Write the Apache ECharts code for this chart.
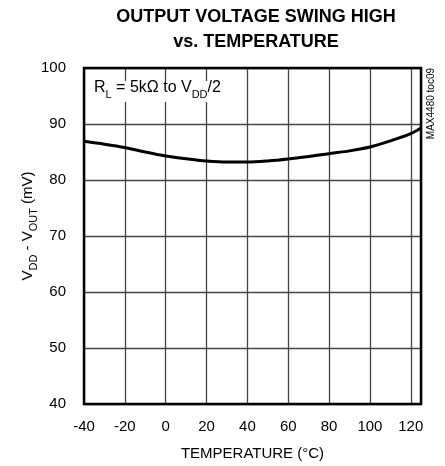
<!DOCTYPE html>
<html><head><meta charset="utf-8">
<script src="https://cdn.jsdelivr.net/npm/echarts@6/dist/echarts.min.js"></script>
<style>html,body{margin:0;padding:0;background:#fff}#c{width:445px;height:466px}</style>
</head><body><div id="c"></div>
<script>
var temps = [-40, -30, -20, -10, 0, 10, 20, 30, 40, 50, 60, 70, 80, 90, 100, 110, 120, 125];
var swing = [86.9, 86.4, 85.8, 85.0, 84.3, 83.8, 83.4, 83.2, 83.2, 83.4, 83.75, 84.2, 84.7, 85.2, 85.9, 87.0, 88.3, 89.3];
var xTicks = [-40, -20, 0, 20, 40, 60, 80, 100, 120];
var FONT = '"Liberation Sans", Arial, sans-serif';
var chart = echarts.init(document.getElementById('c'));
chart.setOption({
  animation: false,
  title: {
    text: 'OUTPUT VOLTAGE SWING HIGH\nvs. TEMPERATURE',
    left: 251, top: 0, textAlign: 'center',
    textStyle: {fontFamily: FONT, fontWeight: 'bold', fontSize: 18, lineHeight: 25, color: '#000'}
  },
  grid: {left: 84, right: 24, top: 68, bottom: 62},
  xAxis: {
    type: 'value', min: -40, max: 125, interval: 20,
    name: 'TEMPERATURE (°C)', nameLocation: 'middle', nameGap: 42,
    nameTextStyle: {fontFamily: FONT, fontSize: 15, color: '#000'},
    axisLine: {show: false},
    axisTick: {show: false},
    axisLabel: {fontFamily: FONT, fontSize: 15, color: '#000', margin: 15, customValues: xTicks},
    splitLine: {show: true, lineStyle: {color: '#444', width: 1.3}},
    customValues: xTicks
  },
  yAxis: {
    type: 'value', min: 40, max: 100, interval: 10,
    axisLine: {show: false},
    axisTick: {show: false},
    axisLabel: {fontFamily: FONT, fontSize: 15, color: '#000', margin: 18},
    splitLine: {show: true, lineStyle: {color: '#444', width: 1.3}}
  },
  graphic: [
    {type: 'rect', shape: {x: 84, y: 68, width: 337, height: 336}, style: {fill: 'none', stroke: '#000', lineWidth: 2.5}, z: 100},
    {type: 'rect', shape: {x: 91, y: 81, width: 134, height: 21}, style: {fill: '#fff'}, z: 50},
    {type: 'text', x: 94, y: 90, z: 60, style: {
      text: '{a|R}{s|L}{a| = 5kΩ to V}{s|DD}{a|/2}', verticalAlign: 'middle',
      rich: {
        a: {fontFamily: FONT, fontSize: 16, fill: '#000', verticalAlign: 'top'},
        s: {fontFamily: FONT, fontSize: 11, fill: '#000', verticalAlign: 'bottom', padding: [9, 0, 0, 0]}
      }}},
    {type: 'text', x: 30, y: 226, rotation: Math.PI / 2, z: 60, style: {
      text: '{a|V}{s|DD}{a| - V}{s|OUT}{a| (mV)}', align: 'center', verticalAlign: 'middle',
      rich: {
        a: {fontFamily: FONT, fontSize: 15, fill: '#000', verticalAlign: 'top'},
        s: {fontFamily: FONT, fontSize: 11, fill: '#000', verticalAlign: 'bottom', padding: [8, 0, 0, 0]}
      }}},
    {type: 'text', x: 431, y: 68, rotation: Math.PI / 2, z: 60, style: {
      text: 'MAX4480 toc09', fontFamily: FONT, fontSize: 10, fill: '#000', verticalAlign: 'middle', align: 'right'}}
  ],
  series: [{
    type: 'line', data: temps.map(function (t, i) { return [t, swing[i]]; }),
    smooth: 0.3, showSymbol: false,
    lineStyle: {color: '#000', width: 3}, z: 10
  }]
});
</script></body></html>
